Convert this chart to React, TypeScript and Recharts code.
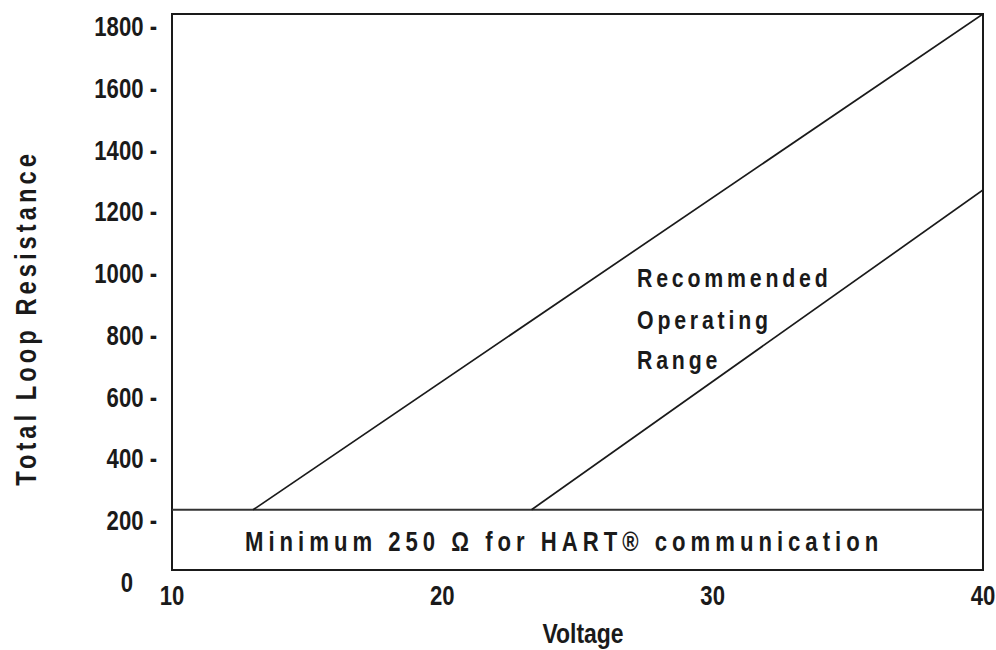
import { LineChart, Line, XAxis, YAxis, ReferenceLine, ReferenceArea, Customized } from "recharts";

// values (Ohm vs Volt)
const voltageTicks = [10, 20, 30, 40];
const resistanceTicks = [0, 200, 400, 600, 800, 1000, 1200, 1400, 1600, 1800];
const upperVoltage = [13.0, 40];
const upperResistance = [195, 1800];
const lowerVoltage = [23.3, 40];
const lowerResistance = [195, 1230];
const minimumResistance = 195;

const upperData = upperVoltage.map((v, i) => ({ v, r: upperResistance[i] }));
const lowerData = lowerVoltage.map((v, i) => ({ v, r: lowerResistance[i] }));

// no Arial Narrow here, so squeeze Liberation Sans Bold horizontally
const FONT = "'Liberation Sans', Arial, sans-serif";
const INK = "#1a1a1a";

function NarrowText(props: any) {
  const { x, y, size, spacing = 0, anchor = "start", rotate = 0, squeeze = 0.82, children } = props;
  return (
    <text
      transform={`translate(${x},${y}) rotate(${rotate}) scale(${squeeze},1)`}
      textAnchor={anchor}
      fontFamily={FONT}
      fontWeight="bold"
      fontSize={size}
      letterSpacing={spacing / squeeze}
      fill={INK}
    >
      {children}
    </text>
  );
}

function YTick(props: any) {
  const { x, y, payload } = props;
  if (payload.value === 0) {
    return <NarrowText x={x - 24} y={y + 22} size={28} squeeze={0.79} anchor="end">0</NarrowText>;
  }
  return (
    <NarrowText x={x} y={y + 22} size={28} squeeze={0.79} anchor="end">
      {`${payload.value} -`}
    </NarrowText>
  );
}

function XTick(props: any) {
  const { x, y, payload } = props;
  return (
    <NarrowText x={x} y={y + 35} size={28} squeeze={0.79} anchor="middle">
      {payload.value}
    </NarrowText>
  );
}

function Annotations() {
  return (
    <g>
      <NarrowText x={637} y={287} size={26} spacing={3.8}>Recommended</NarrowText>
      <NarrowText x={637} y={329} size={26} spacing={3.8}>Operating</NarrowText>
      <NarrowText x={637} y={369} size={26} spacing={3.8}>Range</NarrowText>
      <NarrowText x={245} y={551} size={27} spacing={5}>
        Minimum 250 Ω for HART® communication
      </NarrowText>
      <NarrowText x={583} y={643} size={28} anchor="middle">Voltage</NarrowText>
      <NarrowText x={36} y={318} size={29} spacing={4} anchor="middle" rotate={-90}>
        Total Loop Resistance
      </NarrowText>
    </g>
  );
}

export default function App() {
  return (
    <div style={{ position: "absolute", left: 0, top: 0, width: 996, height: 650, background: "#fff" }}>
      <LineChart width={996} height={650} margin={{ top: 14, right: 13, bottom: 0, left: 0 }}>
        <XAxis
          type="number"
          dataKey="v"
          domain={[10, 40]}
          ticks={voltageTicks}
          height={80}
          axisLine={false}
          tickLine={false}
          tickSize={0}
          tickMargin={0}
          tick={<XTick />}
          allowDataOverflow
        />
        <YAxis
          type="number"
          dataKey="r"
          domain={[0, 1800]}
          ticks={resistanceTicks}
          width={172}
          axisLine={false}
          tickLine={false}
          tickSize={0}
          tickMargin={15}
          tick={<YTick />}
          allowDataOverflow
        />
        <ReferenceArea x1={10} x2={40} y1={0} y2={1800} fill="none" stroke={INK} strokeWidth={2} ifOverflow="visible" />
        <ReferenceLine y={minimumResistance} stroke="#333" strokeWidth={2} />
        <Line data={upperData} dataKey="r" stroke={INK} strokeWidth={1.7} dot={false} isAnimationActive={false} />
        <Line data={lowerData} dataKey="r" stroke={INK} strokeWidth={1.7} dot={false} isAnimationActive={false} />
        <Customized component={<Annotations />} />
      </LineChart>
    </div>
  );
}
